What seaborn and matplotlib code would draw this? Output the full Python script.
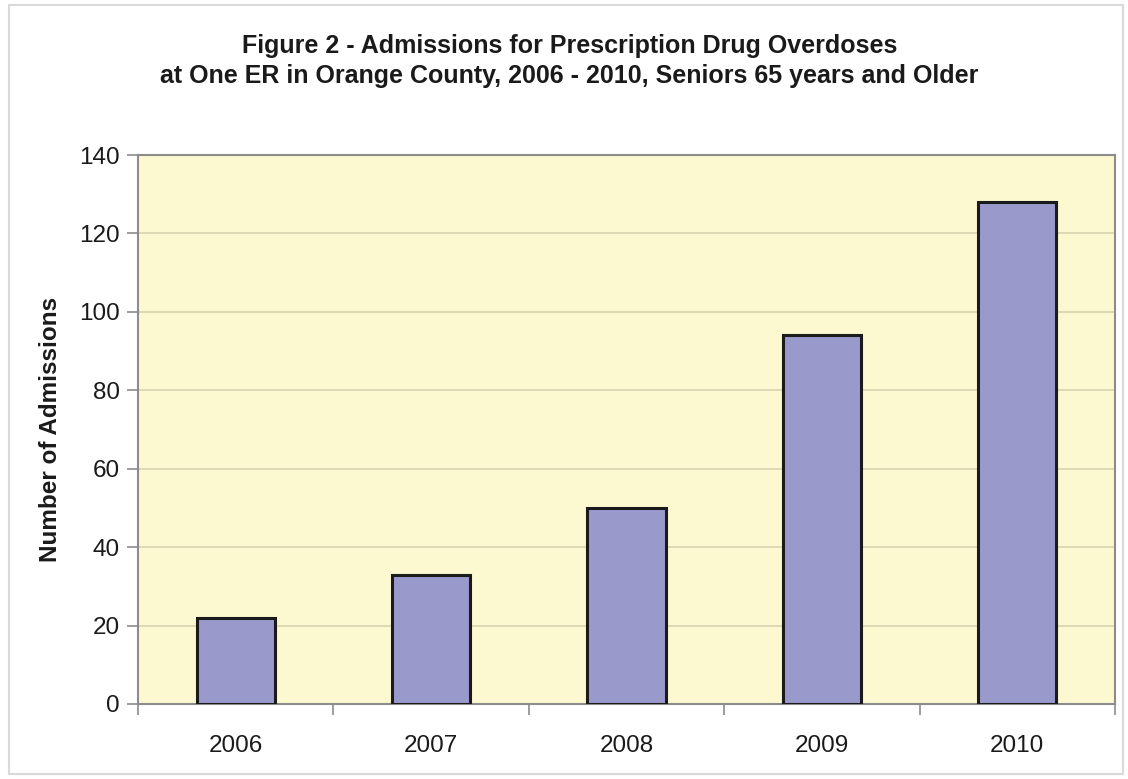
import numpy as np
import pandas as pd
import matplotlib.pyplot as plt
import seaborn as sns
from matplotlib.patches import Rectangle

# chart data
years = ['2006', '2007', '2008', '2009', '2010']
admissions = [22, 33, 50, 94, 128]
y_ticks = [0, 20, 40, 60, 80, 100, 120, 140]

df = pd.DataFrame({'Year': years, 'Admissions': admissions})

sns.set_style('white')
plt.rcParams['font.family'] = ['Liberation Sans', 'DejaVu Sans']

fig = plt.figure(figsize=(11.28, 7.79), dpi=100)
ax = fig.add_axes([0.1223, 0.0963, 0.8662, 0.7047])

sns.barplot(data=df, x='Year', y='Admissions', color='#9999CC',
            saturation=1, width=0.4, edgecolor='#1a1a1a', linewidth=2.2,
            zorder=3, ax=ax)

ax.set_facecolor('#FCF8CF')
ax.set_ylim(0, 140)
ax.set_xlim(-0.5, 4.5)
ax.set_yticks(y_ticks)
ax.yaxis.grid(True, color='#D8D3B0', linewidth=1.2, zorder=0)
ax.xaxis.grid(False)

for side in ['top', 'right', 'left', 'bottom']:
    ax.spines[side].set_color('#8C8C8C')
    ax.spines[side].set_linewidth(1.5)

ax.tick_params(axis='y', which='major', length=8, width=1.2, color='#8C8C8C',
               labelsize=17.5, pad=5, left=True, labelcolor='#1a1a1a')
ax.tick_params(axis='x', which='major', length=0, labelsize=17.5, pad=22,
               labelcolor='#1a1a1a')
ax.set_xticks(np.arange(-0.5, 5.0, 1.0), minor=True)
ax.tick_params(axis='x', which='minor', length=8, width=1.2,
               color='#8C8C8C', bottom=True)

ax.set_xlabel('')
ax.set_ylabel('Number of Admissions', fontsize=17.5, fontweight='bold',
              labelpad=12, color='#1a1a1a')

fig.text(0.505, 0.922,
         'Figure 2 - Admissions for Prescription Drug Overdoses\n'
         'at One ER in Orange County, 2006 - 2010, Seniors 65 years and Older',
         ha='center', va='center', fontsize=18, fontweight='bold',
         color='#1a1a1a', linespacing=1.3)

# thin outer frame round the chart
fig.patches.append(Rectangle((0.008, 0.006), 0.988, 0.988,
                             transform=fig.transFigure, fill=False,
                             edgecolor='#D9D9D9', linewidth=1.5))

fig.savefig('out.png', dpi=100)
